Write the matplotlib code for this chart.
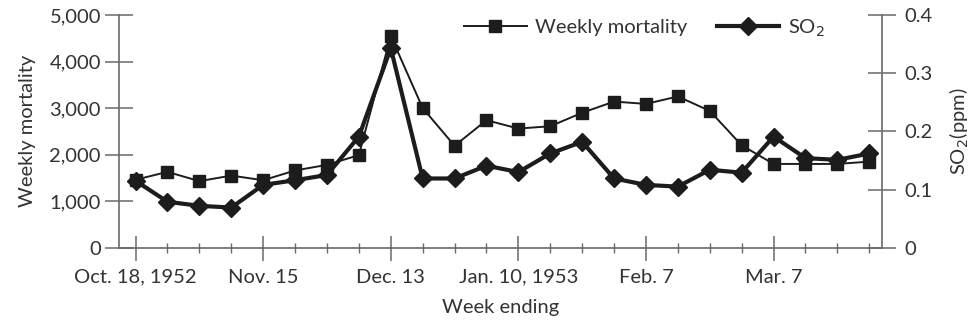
import numpy as np
import matplotlib.pyplot as plt
from matplotlib.ticker import FuncFormatter, MultipleLocator

plt.rcParams['font.family'] = ['Lato', 'DejaVu Sans']

# Weekly data, London winter 1952-53 (week ending Oct 18, 1952 ... Mar 28, 1953)
weeks = np.arange(24)
mortality = [1460, 1630, 1430, 1550, 1450, 1660, 1780, 1990, 4550, 3000,
             2190, 2740, 2560, 2610, 2900, 3140, 3090, 3250, 2940, 2200,
             1800, 1800, 1800, 1850]
so2 = [0.115, 0.079, 0.072, 0.069, 0.108, 0.116, 0.125, 0.191, 0.343, 0.119,
       0.119, 0.141, 0.130, 0.162, 0.182, 0.119, 0.108, 0.105, 0.134, 0.129,
       0.191, 0.154, 0.151, 0.162]
tick_weeks = [0, 4, 8, 12, 16, 20]
tick_labels = ['Oct. 18, 1952', 'Nov. 15', 'Dec. 13', 'Jan. 10, 1953', 'Feb. 7', 'Mar. 7']

axis_col = '#6a6a6a'
text_col = '#333333'
line_col = '#1c1c1c'
fs = 14.5

fig = plt.figure(figsize=(9.73, 3.25), dpi=100)
ax = fig.add_axes([0.1223, 0.2378, 0.7842, 0.716])
ax2 = ax.twinx()

l1, = ax.plot(weeks, mortality, color=line_col, lw=1.4, marker='s', ms=8.5,
              label='Weekly mortality', zorder=3)
l2, = ax2.plot(weeks, so2, color=line_col, lw=3.0, marker='D', ms=9.5,
               label='SO$_2$', zorder=3)

ax.set_xlim(-0.52, 23.4)
ax.set_ylim(0, 5000)
ax2.set_ylim(0, 0.4)

ax.set_xticks(tick_weeks)
ax.set_xticklabels(tick_labels)
ax.xaxis.set_minor_locator(MultipleLocator(1))
ax.set_yticks(range(0, 5001, 1000))
ax.yaxis.set_major_formatter(FuncFormatter(lambda v, p: f'{int(v):,}'))
ax2.set_yticks([0, 0.1, 0.2, 0.3, 0.4])
ax2.set_yticklabels(['0', '0.1', '0.2', '0.3', '0.4'])

for a in (ax, ax2):
    a.spines['top'].set_visible(False)
    for s in a.spines.values():
        s.set_color(axis_col)
        s.set_linewidth(1.2)
ax.spines['right'].set_visible(False)
ax2.spines['left'].set_visible(False)
ax2.spines['bottom'].set_visible(False)

ax.tick_params(axis='y', direction='inout', length=20, width=1.1, color=axis_col,
               labelsize=fs, labelcolor=text_col, pad=3)
ax.tick_params(axis='x', which='major', direction='inout', length=18, width=1.1,
               color=axis_col, labelsize=fs, labelcolor=text_col, pad=6)
ax.tick_params(axis='x', which='minor', direction='inout', length=7, width=1.0,
               color=axis_col)
ax2.tick_params(axis='y', direction='inout', length=20, width=1.1, color=axis_col,
                labelsize=fs, labelcolor=text_col, pad=6)

ax.set_ylabel('Weekly mortality', fontsize=fs, color=text_col, labelpad=10)
ax2.set_ylabel('SO$_2$(ppm)', fontsize=fs, color=text_col, labelpad=11)
ax.set_xlabel('Week ending', fontsize=fs, color=text_col, labelpad=10)

ax2.legend([l1, l2], ['Weekly mortality', 'SO$_2$'], ncol=2, frameon=False,
           loc='center right', bbox_to_anchor=(0.948, 0.944), fontsize=fs,
           handlelength=3.1, columnspacing=1.5, handletextpad=0.4,
           labelcolor=text_col)

fig.savefig('out.png', dpi=100)
